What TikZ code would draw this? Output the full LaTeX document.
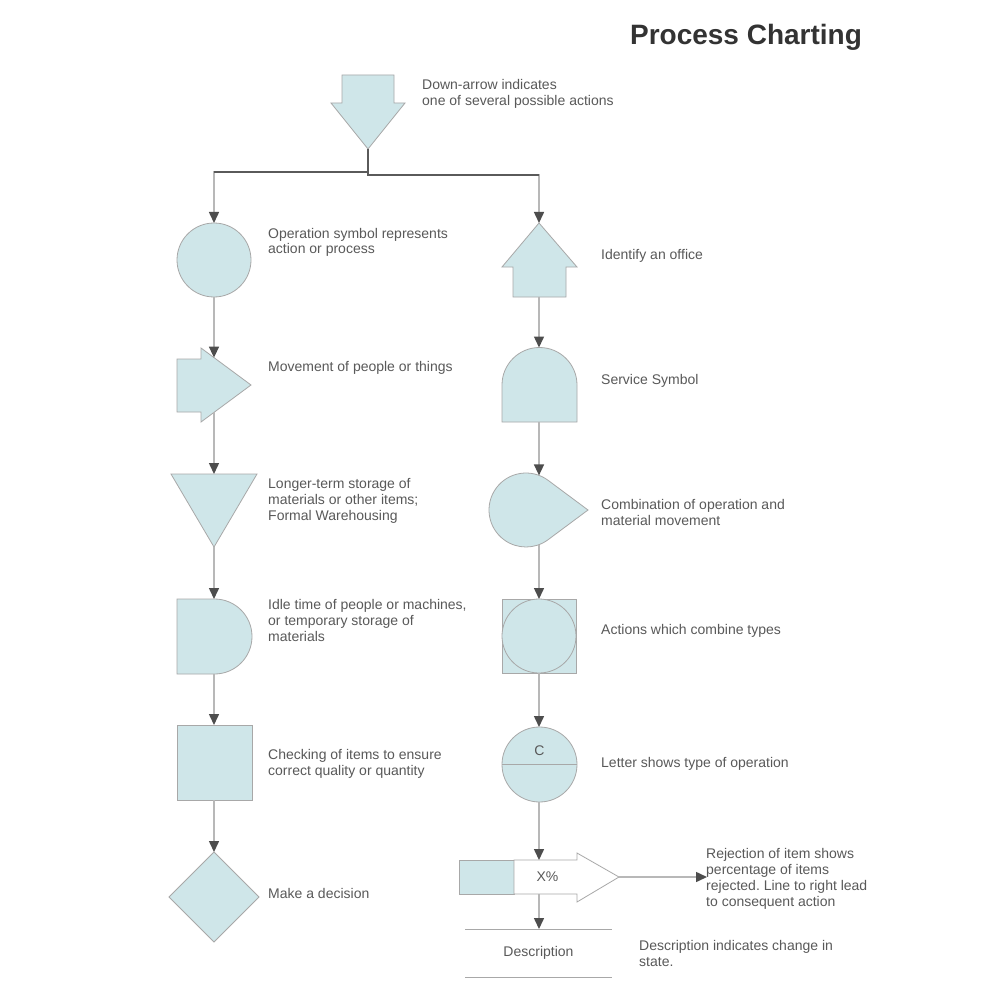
\documentclass[tikz,border=0pt]{standalone}
\usepackage{fontspec}
\setmainfont{Liberation Sans}
\usetikzlibrary{arrows.meta}
\frenchspacing
\definecolor{tealfill}{HTML}{CFE6E9}
\definecolor{shapeborder}{HTML}{A8A8A8}
\definecolor{connlight}{HTML}{B8B8B8}
\definecolor{arrowdark}{HTML}{4D4D4D}
\definecolor{trunkdark}{HTML}{5A5A5A}
\definecolor{txtgray}{HTML}{595959}
\definecolor{titlegray}{HTML}{333333}
\tikzset{
  shp/.style={fill=tealfill, draw=shapeborder, line width=0.8pt, line join=miter},
  conn/.style={draw=connlight, line width=1.5pt, -{Triangle[length=11pt,width=10pt,color=arrowdark]}},
  trunk/.style={draw=trunkdark, line width=1.1pt},
  lbl/.style={anchor=base west, align=left, inner sep=0pt, text=txtgray, font=\fontsize{14}{16}\selectfont},
  inlbl/.style={anchor=center, inner sep=0pt, text=txtgray, font=\fontsize{14}{16}\selectfont},
  rule/.style={draw=shapeborder, line width=1pt},
}
\begin{document}
\begin{tikzpicture}[x=1pt,y=-1pt]
\useasboundingbox[fill=white] (0,0) rectangle (1000,1000);

% Title
\node[anchor=base, inner sep=0pt, text=titlegray, font=\fontsize{28}{32}\selectfont\bfseries] (title) at (746,45) {Process Charting};

% ---------- shapes ----------
% down arrow
\draw[shp] (342,75) -- (394,75) -- (394,103) -- (405,103) -- (368,149) -- (331,103) -- (342,103) -- cycle;
\coordinate (dnTip) at (368,149);
\coordinate (brL) at (368,172);
\coordinate (brLc) at (214,172);
\coordinate (brR) at (368,175);
\coordinate (brRc) at (539,175);

% left column
\draw[shp] (214,260) circle[radius=37];
\coordinate (opT) at (214,223);
\coordinate (opB) at (214,297);

\draw[shp] (177,359) -- (201,359) -- (201,348) -- (251,385) -- (201,422) -- (201,412) -- (177,412) -- cycle;
\coordinate (mvT) at (214,357.6);
\coordinate (mvB) at (214,412.4);

\draw[shp] (171,474) -- (257,474) -- (214,547) -- cycle;
\coordinate (stT) at (214,474);
\coordinate (stB) at (214,547);

\draw[shp] (177,599) -- (214.5,599) arc[start angle=-90,end angle=90,radius=37.5] -- (177,674) -- cycle;
\coordinate (dlT) at (214,599);
\coordinate (dlB) at (214,674);

\draw[shp] (177,725) rectangle (252,800);
\coordinate (inT) at (214,725);
\coordinate (inB) at (214,800);

\draw[shp] (214,852) -- (259,897) -- (214,942) -- (169,897) -- cycle;
\coordinate (dcT) at (214,852);

% right column
\draw[shp] (539,223) -- (577,267) -- (566,267) -- (566,297) -- (513,297) -- (513,267) -- (502,267) -- cycle;
\coordinate (ofT) at (539,223);
\coordinate (ofB) at (539,297);

\draw[shp] (502,422) -- (502,385) arc[start angle=180,end angle=360,radius=37.5] -- (577,422) -- cycle;
\coordinate (svT) at (539,347.5);
\coordinate (svB) at (539,422);

\draw[shp] (588,510) -- (548.06,480.3) arc[start angle=-53.4,end angle=-306.6,radius=37] -- cycle;
\coordinate (cmT) at (539,475.4);
\coordinate (cmB) at (539,544.6);

\draw[shp] (502,599) rectangle (576,673);
\draw[shp] (539,636) circle[radius=37];
\coordinate (acT) at (539,599);
\coordinate (acB) at (539,673);

\draw[shp] (539.5,764.5) circle[radius=37.5];
\draw[draw=shapeborder, line width=0.8pt] (502,764.5) -- (577,764.5);
\node[inlbl] (letC) at (539.5,751) {C};
\coordinate (lsT) at (539,727);
\coordinate (lsB) at (539,802);

% rejection
\draw[shp] (459,860) rectangle (514,894);
\draw[draw=shapeborder, fill=white, line width=0.8pt] (514,860) -- (577,860) -- (577,853) -- (619,877) -- (577,902) -- (577,894) -- (514,894) -- cycle;
\node[inlbl] (pct) at (547.5,877) {X\%};
\coordinate (rjT) at (539,860);
\coordinate (rjB) at (539,894);
\coordinate (rjTip) at (619,877);
\coordinate (rjEnd) at (707,877);

% description
\draw[rule] (465,929) -- (612,929);
\draw[rule] (465,977) -- (612,977);
\node[inlbl] (desc) at (538.5,953) {Description};
\coordinate (dsT) at (539,929);

% ---------- connectors ----------
\draw[conn] (dnTip) -- (brL) -- (brLc) -- (opT);
\draw[conn] (dnTip) -- (brR) -- (brRc) -- (ofT);
\draw[trunk] (dnTip) -- (brL) -- (brLc);
\draw[trunk] (brL) -- (brR) -- (brRc);

\draw[conn] (opB) -- (mvT);
\draw[conn] (mvB) -- (stT);
\draw[conn] (stB) -- (dlT);
\draw[conn] (dlB) -- (inT);
\draw[conn] (inB) -- (dcT);

\draw[conn] (ofB) -- (svT);
\draw[conn] (svB) -- (cmT);
\draw[conn] (cmB) -- (acT);
\draw[conn] (acB) -- (lsT);
\draw[conn] (lsB) -- (rjT);
\draw[conn] (rjB) -- (dsT);
\draw[conn] (rjTip) -- (rjEnd);

% ---------- labels (base = baseline of last line) ----------
\node[lbl] (tDown) at (422,106) {Down-arrow indicates\\one of several possible actions};
\node[lbl] (tOp) at (268,254) {Operation symbol represents\\action or process};
\node[lbl] (tMv) at (268,371) {Movement of people or things};
\node[lbl] (tSt) at (268,520) {Longer-term storage of\\materials or other items;\\Formal Warehousing};
\node[lbl] (tDl) at (268,641) {Idle time of people or machines,\\or temporary storage of\\materials};
\node[lbl] (tIn) at (268,775) {Checking of items to ensure\\correct quality or quantity};
\node[lbl] (tDc) at (268,898) {Make a decision};

\node[lbl] (tOf) at (601,259) {Identify an office};
\node[lbl] (tSv) at (601,384) {Service Symbol};
\node[lbl] (tCm) at (601,525) {Combination of operation and\\material movement};
\node[lbl] (tAc) at (601,634) {Actions which combine types};
\node[lbl] (tLs) at (601,767) {Letter shows type of operation};
\node[lbl] (tRj) at (706,906) {Rejection of item shows\\percentage of items\\rejected. Line to right lead\\to consequent action};
\node[lbl] (tDs) at (639,966) {Description indicates change in\\state.};
\end{tikzpicture}
\end{document}
